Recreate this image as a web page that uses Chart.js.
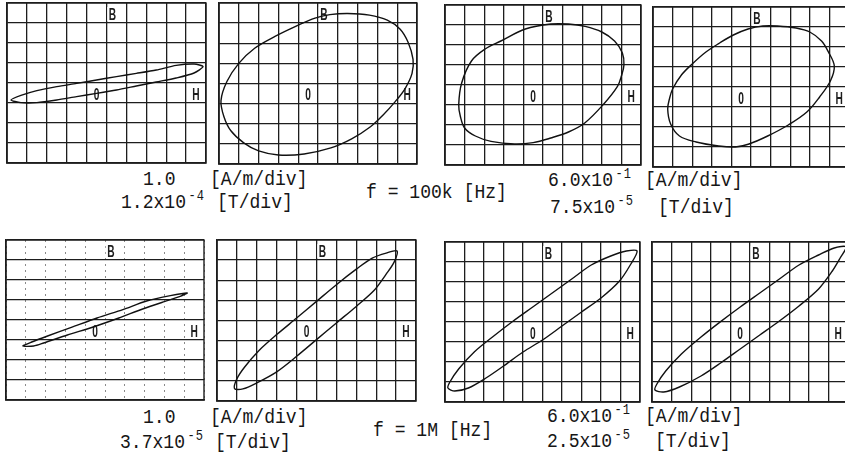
<!DOCTYPE html>
<html>
<head>
<meta charset="utf-8">
<script src="https://cdn.jsdelivr.net/npm/chart.js@4.4.1/dist/chart.umd.min.js"></script>
<style>
body { margin: 0; background: #fff; }
#page { position: relative; width: 845px; height: 455px; overflow: hidden; background: #fff; }
#page canvas { position: absolute; }
.cap { position: absolute; font: 21px "Liberation Mono", monospace; color: #161616; white-space: pre; line-height: 1;
       transform: translateY(-50%) scaleX(0.86); transform-origin: left center; }
.cap sup { font-size: 14px; vertical-align: 8px; line-height: 0; margin-left: 3px; letter-spacing: 1px; }
</style>
</head>
<body>
<div id="page">
  <div class="cap" style="left:143px;top:179px">1.0</div>
  <div class="cap" style="left:210px;top:179px">[A/m/div]</div>
  <div class="cap" style="left:121px;top:202px">1.2x10<sup>-4</sup></div>
  <div class="cap" style="left:217px;top:202px">[T/div]</div>
  <div class="cap" style="left:366px;top:192px">f = 100k [Hz]</div>
  <div class="cap" style="left:548px;top:180px">6.0x10<sup>-1</sup></div>
  <div class="cap" style="left:645px;top:180px">[A/m/div]</div>
  <div class="cap" style="left:550px;top:207px">7.5x10<sup>-5</sup></div>
  <div class="cap" style="left:658px;top:207px">[T/div]</div>

  <div class="cap" style="left:143px;top:417px">1.0</div>
  <div class="cap" style="left:210px;top:417px">[A/m/div]</div>
  <div class="cap" style="left:120px;top:442px">3.7x10<sup>-5</sup></div>
  <div class="cap" style="left:215px;top:442px">[T/div]</div>
  <div class="cap" style="left:373px;top:430px">f = 1M [Hz]</div>
  <div class="cap" style="left:547px;top:416px">6.0x10<sup>-1</sup></div>
  <div class="cap" style="left:645px;top:416px">[A/m/div]</div>
  <div class="cap" style="left:547px;top:441px">2.5x10<sup>-5</sup></div>
  <div class="cap" style="left:655px;top:441px">[T/div]</div>
</div>
<script>
// screen divisions: H from -5 to 5, B from -4 to 4
const divH = [-5, 5];
const divB = [-4, 4];

// f = 100 kHz loops (H, B in divisions), each trace is a closed loop
const h100kA = [4.85, 4.4, 3.5, 2.5, 1.5, 0.5, -0.5, -1.5, -2.5, -3.5, -4.3, -4.8,
                -4.3, -3.5, -2.5, -1.5, -0.5, 0.5, 1.5, 2.5, 3.5, 4.4];
const b100kA = [0.82, 0.95, 0.88, 0.65, 0.48, 0.32, 0.15, -0.02, -0.18, -0.38, -0.62, -0.85,
                -0.98, -0.98, -0.85, -0.68, -0.52, -0.35, -0.15, 0.05, 0.25, 0.5];

const h100kB = [1.5, 2.6, 3.5, 4.15, 4.55, 4.8, 4.75, 4.4, 3.9, 3.3, 2.65, 1.7, 0.65, -0.7, -2.0,
                -3.0, -3.75, -4.4, -4.75, -4.9, -4.6, -4.0, -3.2, -2.15, -1.1, -0.15, 0.6];
const b100kB = [3.48, 3.4, 3.15, 2.7, 2.05, 1.2, 0.5, -0.25, -0.9, -1.55, -2.15, -2.75, -3.2, -3.5, -3.55,
                -3.35, -2.95, -2.35, -1.65, -0.85, 0.1, 1.0, 1.75, 2.35, 2.85, 3.25, 3.42];

const h100kC = [0.4, 1.3, 2.15, 3.0, 3.65, 4.05, 4.13, 4.0, 3.8, 3.1, 2.13, 1.3, 0.4, -0.5, -1.45,
                -2.65, -3.45, -4.0, -4.22, -4.3, -4.15, -3.65, -2.95, -2.15, -0.9];
const b100kC = [3.05, 3.05, 2.93, 2.65, 2.2, 1.6, 1.0, 0.45, -0.07, -0.95, -1.9, -2.35, -2.65, -2.88, -2.95,
                -2.82, -2.55, -2.15, -1.55, -0.98, 0.1, 1.2, 1.8, 2.2, 2.8];

const h100kD = [0.6, 1.35, 2.3, 3.0, 3.6, 3.95, 4.25, 4.05, 3.5, 2.85, 1.9, 0.85, -0.1, -0.8, -1.65,
                -2.8, -3.65, -4.1, -4.25, -4.15, -4.0, -3.55, -3.0, -2.3, -1.6, -0.9, -0.15];
const b100kD = [3.05, 3.05, 2.95, 2.75, 2.3, 1.75, 1.05, 0.3, -0.5, -1.25, -1.9, -2.45, -2.85, -3.0, -2.95,
                -2.75, -2.45, -1.85, -1.1, -0.55, -0.1, 0.6, 1.15, 1.75, 2.2, 2.6, 2.9];

// f = 1 MHz loops
const h1MA = [4.15, 3.3, 2.1, 0.9, -0.4, -1.7, -2.9, -3.7, -4.15,
              -3.6, -3.1, -1.9, -0.6, 0.7, 1.9, 3.0, 3.8];
const b1MA = [1.35, 1.22, 0.95, 0.52, 0.1, -0.37, -0.8, -1.1, -1.3,
              -1.3, -1.15, -0.75, -0.35, 0.1, 0.55, 0.92, 1.18];

const h1MB = [4.05, 3.5, 2.8, 2.0, 1.0, 0, -1.0, -2.0, -2.9, -3.6, -4.0, -4.12,
              -3.7, -3.0, -2.0, -1.0, 0, 1.0, 2.0, 2.9, 3.5, 3.9];
const b1MB = [3.45, 3.35, 3.1, 2.55, 1.78, 0.95, 0.12, -0.7, -1.5, -2.3, -2.9, -3.38,
              -3.4, -3.1, -2.55, -1.78, -0.95, -0.12, 0.7, 1.5, 2.3, 2.9];

const h1MC = [4.85, 4.3, 3.5, 2.5, 1.5, 0.5, -0.5, -1.5, -2.5, -3.5, -4.3, -4.75, -4.85,
              -4.5, -3.8, -2.9, -2.0, -1.0, 0, 1.0, 2.0, 3.0, 3.95, 4.5];
const b1MC = [3.55, 3.55, 3.3, 2.85, 2.15, 1.45, 0.75, 0.05, -0.7, -1.5, -2.35, -3.0, -3.3,
              -3.45, -3.3, -2.8, -2.2, -1.5, -0.9, -0.2, 0.5, 1.2, 2.05, 2.85];

const h1MD = [4.9, 4.3, 3.5, 2.5, 1.5, 0.5, -0.5, -1.5, -2.5, -3.5, -4.3, -4.75, -4.85,
              -4.4, -3.6, -2.5, -1.5, -0.5, 0.5, 1.5, 2.5, 3.5, 4.2, 4.6];
const b1MD = [3.75, 3.7, 3.35, 2.85, 2.15, 1.45, 0.75, 0.02, -0.75, -1.6, -2.45, -3.1, -3.4,
              -3.5, -3.25, -2.7, -2.05, -1.35, -0.65, 0.05, 0.8, 1.65, 2.55, 3.2];

// axis marks written on each screen
const markText = ['B', '0', 'H'];
const markH = [0.3, -0.5, 4.5];
const markB = [3.45, -0.55, -0.55];

const panels = [
    {h: h100kA, b: b100kA, box: [7, 3, 199, 160], tension: 0.25},
    {h: h100kB, b: b100kB, box: [219, 3, 198, 161], tension: 0.35},
    {h: h100kC, b: b100kC, box: [445, 5, 196, 160], tension: 0.35},
    {h: h100kD, b: b100kD, box: [653, 7, 196, 160], tension: 0.35},
    {h: h1MA, b: b1MA, box: [6, 240, 198, 160], tension: 0.25, faint: true},
    {h: h1MB, b: b1MB, box: [217, 240, 199, 161], tension: 0.3},
    {h: h1MC, b: b1MC, box: [445, 242, 195, 160], tension: 0.3},
    {h: h1MD, b: b1MD, box: [652, 242, 196, 160], tension: 0.3},
];

const ink = '#1d1d1d';

// the traces are closed curves, so let the line element wrap round like a radar line
const closeLoop = {
    id: 'closeLoop',
    afterDatasetsUpdate(chart) {
        chart.getSortedVisibleDatasetMetas().forEach(meta => {
            const line = meta.dataset;
            if (line) {
                line._loop = true;
                line._fullLoop = true;
                line._pointsUpdated = false;
                delete line._segments;
                delete line._path;
            }
        });
    }
};

const frame = {
    id: 'frame',
    beforeDatasetsDraw(chart) {
        const {ctx, chartArea: a, scales: {x, y}} = chart;
        ctx.save();
        ctx.strokeStyle = ink;
        ctx.lineWidth = 1.4;
        ctx.strokeRect(a.left, a.top, a.right - a.left, a.bottom - a.top);
        ctx.font = 'bold 17px "Liberation Sans", sans-serif';
        ctx.textAlign = 'center';
        ctx.textBaseline = 'middle';
        markText.forEach((t, i) => {
            const px = x.getPixelForValue(markH[i]);
            const py = y.getPixelForValue(markB[i]);
            const w = ctx.measureText(t).width * 0.6 + 3;
            ctx.fillStyle = '#fff';
            ctx.fillRect(px - w / 2, py - 7, w, 14);
            ctx.fillStyle = ink;
            ctx.save();
            ctx.translate(px, py);
            ctx.scale(0.6, 1);
            ctx.fillText(t, 0, 1);
            ctx.restore();
        });
        ctx.restore();
    }
};

function make_panel(p) {
    const page = document.getElementById('page');
    const cv = document.createElement('canvas');
    const [left, top, w, h] = p.box;
    cv.width = w + 2;
    cv.height = h + 2;
    cv.style.left = (left - 1) + 'px';
    cv.style.top = (top - 1) + 'px';
    page.appendChild(cv);

    const pts = p.h.map((v, i) => ({x: v, y: p.b[i]}));

    new Chart(cv, {
        type: 'scatter',
        data: {
            datasets: [{
                data: pts,
                showLine: true,
                tension: p.tension,
                borderColor: '#111',
                borderWidth: 1.4,
                pointRadius: 0,
                fill: false,
            }]
        },
        options: {
            responsive: false,
            animation: false,
            events: [],
            layout: {padding: 1},
            plugins: {legend: {display: false}, tooltip: {enabled: false}},
            scales: {
                x: {
                    type: 'linear', min: divH[0], max: divH[1],
                    ticks: {display: false, stepSize: 1},
                    grid: {color: p.faint ? '#8a8a8a' : ink, lineWidth: p.faint ? 1 : 1.3, drawTicks: false},
                    border: {display: true, color: ink, width: 1.4, dash: p.faint ? [2, 4] : []},
                },
                y: {
                    type: 'linear', min: divB[0], max: divB[1],
                    ticks: {display: false, stepSize: 1},
                    grid: {color: ink, lineWidth: 1.3, drawTicks: false},
                    border: {display: true, color: ink, width: 1.4},
                },
            },
        },
        plugins: [closeLoop, frame],
    });
}

panels.forEach(make_panel);
</script>
</body>
</html>
